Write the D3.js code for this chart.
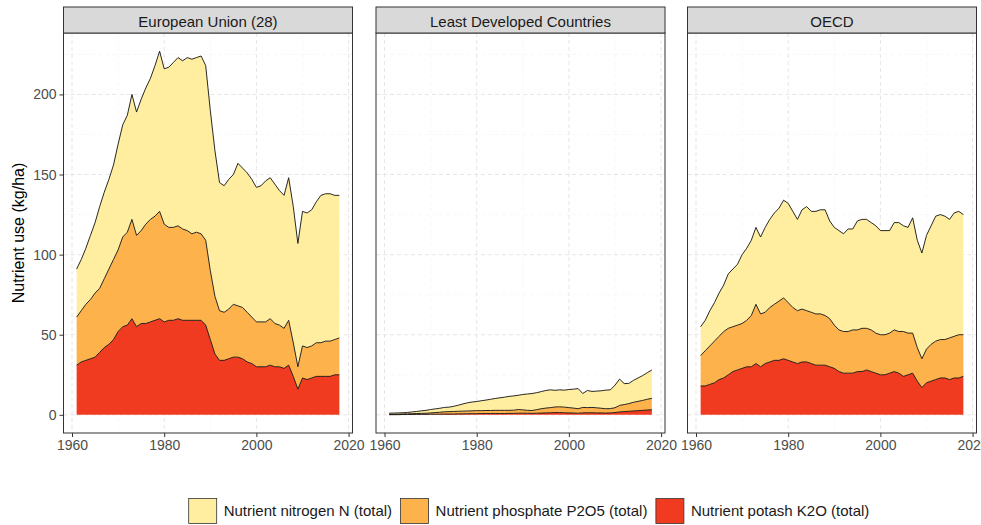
<!DOCTYPE html>
<html>
<head>
<meta charset="utf-8">
<script src="https://cdn.jsdelivr.net/npm/d3@7"></script>
<style>
  html, body { margin: 0; padding: 0; background: #ffffff; }
  svg { display: block; font-family: "Liberation Sans", Arial, sans-serif; }
</style>
</head>
<body>
<svg id="chart" width="981" height="525"></svg>
<script>
// Fertilizer nutrient use per hectare of cropland, 1961-2018
const years = d3.range(1961, 2019);
const regions = ["European Union (28)", "Least Developed Countries", "OECD"];
const nutrients = ["Nutrient nitrogen N (total)", "Nutrient phosphate P2O5 (total)", "Nutrient potash K2O (total)"];

const euN = [30,32,35,40,44,51,54,56,59,66, 70,73,78,77,82,85,88,94,100,97,
  100,103,105,105,108,109,109,111,109,100, 91,80,79,81,81,89,87,87,86,84,
  85,88,88,87,84,83,89,85,77,84, 84,85,88,92,92,92,90,89];
const euP = [30,32,35,37,40,40,43,47,50,51, 56,58,62,57,58,62,64,65,67,61,
  58,58,58,57,56,54,55,54,53,43, 36,31,30,31,33,32,32,31,29,28,
  28,28,29,27,26,25,28,21,14,20, 20,20,21,21,22,22,22,23];
const euK = [31,33,34,35,36,39,42,44,47,52, 55,56,60,55,57,57,58,59,60,58,
  59,59,60,59,59,59,59,59,56,47, 38,34,34,35,36,36,35,33,32,30,
  30,30,31,30,30,29,31,24,16,23, 22,23,24,24,24,24,25,25];

const ldcN = [0.7,0.8,0.8,0.8,0.9,1.1,1.3,1.6,1.8,2.1, 2.3,2.5,2.7,2.8,3.2,3.8,4.5,5.1,5.5,5.7,
  6.2,6.5,7.0,7.4,7.8,8.2,8.7,8.9,8.9,9.6, 10.2,10.6,10.6,10.7,11.0,11.1,10.4,10.6,10.6,11.3,
  11.8,12.6,8.7,10.7,10.0,10.4,10.9,11.6,11.7,14.1, 16.4,13.1,12.6,13.7,14.6,15.5,16.6,17.7];
const ldcP = [0.2,0.2,0.3,0.3,0.4,0.5,0.5,0.6,0.7,0.8, 1.0,1.2,1.4,1.5,1.6,1.6,1.7,1.7,1.8,1.9,
  1.8,1.9,1.9,2.0,2.0,2.0,1.9,2.0,2.3,2.1, 1.8,1.8,2.2,2.7,3.0,3.2,3.5,3.6,3.5,3.3,
  3.1,2.8,3.4,3.2,3.3,3.2,2.9,2.7,2.7,3.0, 4.1,4.4,4.8,5.4,5.8,6.2,6.7,7.1];
const ldcK = [0.1,0.1,0.1,0.2,0.2,0.2,0.3,0.3,0.3,0.4, 0.4,0.4,0.5,0.5,0.5,0.6,0.6,0.7,0.7,0.7,
  0.8,0.8,0.8,0.8,0.8,0.8,0.9,0.9,1.0,1.0, 1.0,0.9,1.0,1.1,1.2,1.3,1.4,1.4,1.3,1.2,
  1.1,1.0,1.2,1.3,1.3,1.2,1.2,1.1,1.2,1.4, 1.8,2.0,2.2,2.4,2.6,2.8,3.0,3.2];

const oecdN = [18,19,22,24,27,29,34,36,38,43, 45,47,48,48,53,55,57,58,61,62,
  60,57,62,65,63,64,65,66,61,61, 62,61,64,63,68,68,68,67,67,65,
  65,64,67,68,66,66,72,67,66,71, 74,78,78,77,74,77,77,75];
const oecdP = [19,22,24,26,27,29,29,28,28,28, 29,32,37,33,32,34,35,37,38,36,
  34,33,33,32,32,32,32,31,30,27, 26,26,26,27,26,27,26,26,25,25,
  25,25,26,26,28,26,25,21,18,21, 23,24,24,24,26,26,27,26];
const oecdK = [18,18,19,20,22,23,25,27,28,29, 30,30,32,30,32,33,34,34,35,34,
  33,32,33,33,32,31,31,31,30,29, 27,26,26,26,27,27,28,27,26,25,
  25,26,27,26,24,25,26,21,17,20, 21,22,23,23,22,23,23,24];

const yTicks = [0, 50, 100, 150, 200];
const xTicks = [1960, 1980, 2000, 2020];
const fills = ["#FFEDA0", "#FEB24C", "#F03B20"];

// ---- build per-region tables
const series = [
  {N: euN, P: euP, K: euK},
  {N: ldcN, P: ldcP, K: ldcK},
  {N: oecdN, P: oecdP, K: oecdK}
];
const tables = series.map(s => years.map((yr, i) => ({year: yr, K: s.K[i], P: s.P[i], N: s.N[i]})));
const stack = d3.stack().keys(["K", "P", "N"]);
const colorOf = {K: fills[2], P: fills[1], N: fills[0]};

// ---- layout
const svg = d3.select("#chart");
const FONT = "Liberation Sans, Arial, sans-serif";
const panelLefts = [63.5, 376, 687.5];
const panelW = 289;
const stripTop = 7, stripH = 26;
const plotTop = stripTop + stripH, plotH = 400;

const yMax = d3.max(tables.flat(), d => d.K + d.P + d.N);
const yPad = yMax * 0.05;
const y = d3.scaleLinear().domain([-yPad, yMax + yPad]).range([plotTop + plotH, plotTop]);
const xPad = (2018 - 1961) * 0.05;
const x = d3.scaleLinear().domain([1961 - xPad, 2018 + xPad]).range([0, panelW]);

regions.forEach((name, pi) => {
  const g = svg.append("g").attr("transform", `translate(${panelLefts[pi]},0)`);

  // panel background + grid
  g.append("rect").attr("x", 0).attr("y", plotTop).attr("width", panelW).attr("height", plotH).attr("fill", "#fff");
  const grid = g.append("g");
  [25, 75, 125, 175, 225].forEach(v => grid.append("line")
    .attr("x1", 0).attr("x2", panelW).attr("y1", y(v)).attr("y2", y(v))
    .attr("stroke", "#F2F2F2").attr("stroke-width", 0.6).attr("stroke-dasharray", "4,3"));
  [1970, 1990, 2010].forEach(v => grid.append("line")
    .attr("y1", plotTop).attr("y2", plotTop + plotH).attr("x1", x(v)).attr("x2", x(v))
    .attr("stroke", "#F2F2F2").attr("stroke-width", 0.6).attr("stroke-dasharray", "4,3"));
  yTicks.forEach(v => grid.append("line")
    .attr("x1", 0).attr("x2", panelW).attr("y1", y(v)).attr("y2", y(v))
    .attr("stroke", "#E6E6E6").attr("stroke-width", 1).attr("stroke-dasharray", "4,3"));
  xTicks.forEach(v => grid.append("line")
    .attr("y1", plotTop).attr("y2", plotTop + plotH).attr("x1", x(v)).attr("x2", x(v))
    .attr("stroke", "#E6E6E6").attr("stroke-width", 1).attr("stroke-dasharray", "4,3"));

  // stacked areas, outlined along the upper edge only
  const layers = stack(tables[pi]);
  const area = d3.area().x(d => x(d.data.year)).y0(d => y(d[0])).y1(d => y(d[1]));
  const upper = d3.line().x(d => x(d.data.year)).y(d => y(d[1]));
  g.selectAll("path.area").data(layers).join("path")
    .attr("class", "area").attr("d", area).attr("fill", d => colorOf[d.key]);
  g.selectAll("path.edge").data(layers).join("path")
    .attr("class", "edge").attr("d", upper).attr("fill", "none")
    .attr("stroke", "#111").attr("stroke-width", 0.9);

  // panel border
  g.append("rect").attr("x", 0).attr("y", plotTop).attr("width", panelW).attr("height", plotH)
    .attr("fill", "none").attr("stroke", "#333").attr("stroke-width", 1);

  // strip
  g.append("rect").attr("x", 0).attr("y", stripTop).attr("width", panelW).attr("height", stripH)
    .attr("fill", "#D9D9D9").attr("stroke", "#333").attr("stroke-width", 1);
  g.append("text").attr("x", panelW / 2).attr("y", stripTop + 20)
    .attr("text-anchor", "middle").attr("font-size", 15).attr("fill", "#1A1A1A").text(name);

  // x axis
  const xa = g.append("g").attr("transform", `translate(0,${plotTop + plotH})`)
    .call(d3.axisBottom(x).tickValues(xTicks).tickFormat(d3.format("d")).tickSize(4).tickSizeOuter(0).tickPadding(3));
  xa.select(".domain").remove();
  xa.selectAll("line").attr("stroke", "#333");
  xa.selectAll("text").attr("fill", "#4D4D4D").attr("font-size", 14).attr("font-family", FONT);

  if (pi === 0) {
    const ya = g.append("g").call(d3.axisLeft(y).tickValues(yTicks).tickSize(4).tickSizeOuter(0).tickPadding(3));
    ya.select(".domain").remove();
    ya.selectAll("line").attr("stroke", "#333");
    ya.selectAll("text").attr("fill", "#4D4D4D").attr("font-size", 14).attr("font-family", FONT);
  }
});

// y axis title
svg.append("text")
  .attr("transform", `translate(18,${plotTop + plotH / 2}) rotate(-90)`)
  .attr("text-anchor", "middle").attr("dy", "0.35em")
  .attr("font-size", 16).attr("fill", "#000").text("Nutrient use (kg/ha)");

// legend along the bottom
const legend = svg.append("g");
const keyW = 28, keyH = 25, keyGap = 7, itemGap = 8.5;
const legendY = 511;
let cursor = 0;
nutrients.forEach((label, i) => {
  const it = legend.append("g");
  it.append("rect").attr("x", 0).attr("y", legendY - keyH / 2).attr("width", keyW).attr("height", keyH)
    .attr("fill", fills[i]).attr("stroke", "#333").attr("stroke-width", 0.8);
  const t = it.append("text").attr("x", keyW + keyGap).attr("y", legendY).attr("dy", "0.35em")
    .attr("font-size", 15).attr("fill", "#1A1A1A").text(label);
  const w = keyW + keyGap + t.node().getComputedTextLength();
  it.attr("transform", `translate(${cursor},0)`);
  cursor += w + itemGap;
});
const totalW = cursor - itemGap;
const centre = 529;
legend.attr("transform", `translate(${centre - totalW / 2},0)`);
</script>
</body>
</html>
